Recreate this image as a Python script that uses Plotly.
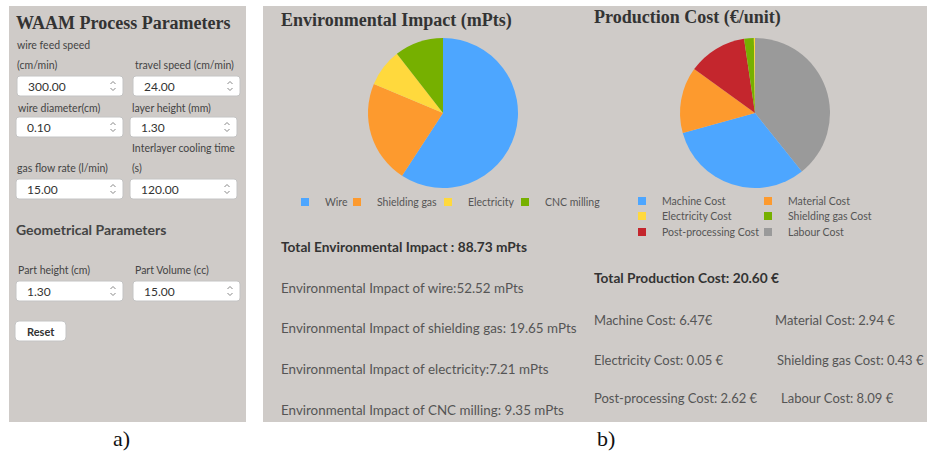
import plotly.graph_objects as go

W, H = 927, 454
BG = "#cfcbc8"
SANS = "Lato"
SERIF = "Liberation Serif"

# ---------------- data ----------------
env_labels = ["Wire", "Shielding gas", "Electricity", "CNC milling"]
env_values = [52.52, 19.65, 7.21, 9.35]
env_colors = ["#4da6ff", "#fd9a2e", "#ffd93d", "#76b000"]

cost_legend_labels = ["Machine Cost", "Material Cost", "Electricity Cost",
                      "Shielding gas Cost", "Post-processing Cost", "Labour Cost"]
cost_legend_colors = ["#4da6ff", "#fd9a2e", "#ffd93d", "#76b000", "#c4262d", "#9a9a9a"]
# drawing order of the slices (clockwise from 12 o'clock)
cost_labels = ["Labour Cost", "Machine Cost", "Material Cost",
               "Post-processing Cost", "Shielding gas Cost", "Electricity Cost"]
cost_values = [8.09, 6.47, 2.94, 2.62, 0.43, 0.05]
cost_colors = ["#9a9a9a", "#4da6ff", "#fd9a2e", "#c4262d", "#76b000", "#ffd93d"]

input_values = ["300.00", "24.00", "0.10", "1.30", "15.00", "120.00", "1.30", "15.00"]
input_labels = ["wire feed speed", "(cm/min)", "travel speed (cm/min)",
                "wire diameter(cm)", "layer height (mm)",
                "Interlayer cooling time", "gas flow rate (l/min)", "(s)",
                "Part height (cm)", "Part Volume (cc)"]

env_total_text = "Total Environmental Impact : 88.73 mPts"
env_lines = ["Environmental Impact of wire:52.52 mPts",
             "Environmental Impact of shielding gas: 19.65 mPts",
             "Environmental Impact of electricity:7.21 mPts",
             "Environmental Impact of CNC milling: 9.35 mPts"]
cost_total_text = "Total Production Cost: 20.60 €"
cost_lines = ["Machine Cost: 6.47€", "Material Cost: 2.94 €",
              "Electricity Cost: 0.05 €", "Shielding gas Cost: 0.43 €",
              "Post-processing Cost: 2.62 €", "Labour Cost: 8.09 €"]


def px(x):
    return x / W


def py(y):
    return 1 - y / H


def rrect(x0, y0, x1, y1, r=3):
    pts = [
        f"M{px(x0 + r)},{py(y0)}",
        f"L{px(x1 - r)},{py(y0)}",
        f"Q{px(x1)},{py(y0)} {px(x1)},{py(y0 + r)}",
        f"L{px(x1)},{py(y1 - r)}",
        f"Q{px(x1)},{py(y1)} {px(x1 - r)},{py(y1)}",
        f"L{px(x0 + r)},{py(y1)}",
        f"Q{px(x0)},{py(y1)} {px(x0)},{py(y1 - r)}",
        f"L{px(x0)},{py(y0 + r)}",
        f"Q{px(x0)},{py(y0)} {px(x0 + r)},{py(y0)}",
        "Z",
    ]
    return " ".join(pts)


fig = go.Figure()

fig.add_trace(go.Pie(
    labels=env_labels, values=env_values, sort=False, direction="clockwise",
    marker=dict(colors=env_colors, line=dict(width=0)), textinfo="none",
    domain=dict(x=[px(368), px(518)], y=[py(188), py(38)]),
    showlegend=False,
))
fig.add_trace(go.Pie(
    labels=cost_labels, values=cost_values, sort=False, direction="clockwise",
    marker=dict(colors=cost_colors, line=dict(width=0)), textinfo="none",
    domain=dict(x=[px(680), px(830)], y=[py(188), py(38)]),
    showlegend=False,
))

# legend entries: one small legend per entry so each sits where the reference has it
leg_font = dict(family=SANS, size=10.5, color="#555")
leg_common = dict(orientation="h", bgcolor="rgba(0,0,0,0)", borderwidth=0, font=leg_font,
                  xanchor="left", yanchor="middle", itemclick=False, itemdoubleclick=False)
env_leg_text_x = [329, 374, 458, 528]
env_leg_shift = [-4, 3, 10, 17]
cost_leg_text_xy = [(660, 201), (778, 201), (660, 216), (778, 216), (660, 232), (778, 232)]
cost_leg_shift = [2, 10, 2, 10, 2, 10]

legend_layout = {}
n = 0
for lab, col, tx, s in zip(env_labels, env_colors, env_leg_text_x, env_leg_shift):
    n += 1
    lid = "legend" if n == 1 else f"legend{n}"
    fig.add_trace(go.Scatter(x=[None], y=[None], mode="markers", name=lab, legend=lid,
                             marker=dict(symbol="square", size=8, color=col), showlegend=True))
    legend_layout[lid] = dict(x=px(tx - 40 + s), y=py(202), **leg_common)
for lab, col, (tx, ty), s in zip(cost_legend_labels, cost_legend_colors, cost_leg_text_xy, cost_leg_shift):
    n += 1
    lid = f"legend{n}"
    fig.add_trace(go.Scatter(x=[None], y=[None], mode="markers", name=lab, legend=lid,
                             marker=dict(symbol="square", size=8, color=col), showlegend=True))
    legend_layout[lid] = dict(x=px(tx - 40 + s), y=py(ty), **leg_common)

shapes = []
# panels
shapes.append(dict(type="rect", xref="paper", yref="paper", x0=px(9), x1=px(246),
                   y0=py(422), y1=py(6), fillcolor=BG, line=dict(width=0), layer="below"))
shapes.append(dict(type="rect", xref="paper", yref="paper", x0=px(263), x1=px(927),
                   y0=py(422), y1=py(6), fillcolor=BG, line=dict(width=0), layer="below"))

# input boxes
boxes = [(17, 123, 76, 96), (133, 240, 76, 96),
         (16, 123, 117, 137), (130, 237, 117, 137),
         (16, 123, 179, 199), (130, 237, 179, 199),
         (16, 123, 281, 301), (133, 240, 281, 301)]
annotations = []
for (x0, x1, y0, y1), val in zip(boxes, input_values):
    shapes.append(dict(type="path", xref="paper", yref="paper", path=rrect(x0, y0, x1, y1),
                       fillcolor="white", line=dict(color="#c4c4c4", width=1), layer="above"))
    cy = (y0 + y1) / 2
    sx = x1 - 10
    shapes.append(dict(type="path", xref="paper", yref="paper",
                       path=f"M{px(sx-2.5)},{py(cy-2)} L{px(sx)},{py(cy-4.5)} L{px(sx+2.5)},{py(cy-2)}",
                       line=dict(color="#888", width=1), layer="above"))
    shapes.append(dict(type="path", xref="paper", yref="paper",
                       path=f"M{px(sx-2.5)},{py(cy+2)} L{px(sx)},{py(cy+4.5)} L{px(sx+2.5)},{py(cy+2)}",
                       line=dict(color="#888", width=1), layer="above"))
    annotations.append(dict(text=val, x=px(x0 + 9), y=py(cy), xref="paper", yref="paper",
                            xanchor="left", yanchor="middle", showarrow=False,
                            font=dict(family=SANS, size=12, color="#333")))

# reset button
shapes.append(dict(type="path", xref="paper", yref="paper", path=rrect(15, 321, 66, 341, 4),
                   fillcolor="white", line=dict(color="#c4c4c4", width=1), layer="above"))
annotations.append(dict(text="<b>Reset</b>", x=px(40.5), y=py(331), xref="paper", yref="paper",
                        xanchor="center", yanchor="middle", showarrow=False,
                        font=dict(family=SANS, size=11, color="#333")))

label_pos = [(15, 45), (15, 65), (133, 65), (16, 108), (130, 108),
             (130, 148), (15, 168), (130, 168), (16, 270), (133, 270)]
for t, (x, y) in zip(input_labels, label_pos):
    annotations.append(dict(text=t, x=px(x), y=py(y), xref="paper", yref="paper",
                            xanchor="left", yanchor="middle", showarrow=False,
                            font=dict(family=SANS, size=10.5, color="#444")))

# titles
for t, x, y in [("WAAM Process Parameters", 14, 23),
                ("Environmental Impact (mPts)", 279, 20),
                ("Production Cost (€/unit)", 592, 18)]:
    annotations.append(dict(text=f"<b>{t}</b>", x=px(x), y=py(y), xref="paper", yref="paper",
                            xanchor="left", yanchor="middle", showarrow=False,
                            font=dict(family=SERIF, size=18, color="#333")))
annotations.append(dict(text="<b>Geometrical Parameters</b>", x=px(14), y=py(229),
                        xref="paper", yref="paper", xanchor="left", yanchor="middle",
                        showarrow=False, font=dict(family=SANS, size=14, color="#444")))

# environmental text
annotations.append(dict(text=f"<b>{env_total_text}</b>", x=px(279), y=py(246),
                        xref="paper", yref="paper", xanchor="left", yanchor="middle",
                        showarrow=False, font=dict(family=SANS, size=13.7, color="#333")))
for t, y in zip(env_lines, [288, 328, 369, 410]):
    annotations.append(dict(text=t, x=px(279), y=py(y), xref="paper", yref="paper",
                            xanchor="left", yanchor="middle", showarrow=False,
                            font=dict(family=SANS, size=13.4, color="#555")))

# cost text
annotations.append(dict(text=f"<b>{cost_total_text}</b>", x=px(592), y=py(277),
                        xref="paper", yref="paper", xanchor="left", yanchor="middle",
                        showarrow=False, font=dict(family=SANS, size=13.7, color="#333")))
cost_pos = [(592, 320), (773, 320), (592, 360), (775, 360), (592, 398), (779, 398)]
for t, (x, y) in zip(cost_lines, cost_pos):
    annotations.append(dict(text=t, x=px(x), y=py(y), xref="paper", yref="paper",
                            xanchor="left", yanchor="middle", showarrow=False,
                            font=dict(family=SANS, size=13, color="#555")))

# sub-figure labels
for t, x in [("a)", 121), ("b)", 606)]:
    annotations.append(dict(text=t, x=px(x), y=py(438), xref="paper", yref="paper",
                            xanchor="center", yanchor="middle", showarrow=False,
                            font=dict(family="Liberation Serif", size=22, color="#111")))

fig.update_layout(
    width=W, height=H, margin=dict(l=0, r=0, t=0, b=0),
    paper_bgcolor="white", plot_bgcolor="rgba(0,0,0,0)",
    xaxis=dict(visible=False), yaxis=dict(visible=False),
    shapes=shapes, annotations=annotations,
    hovermode=False,
    **legend_layout,
)

fig.write_html("out.html", post_script="document.body.style.margin='0px';",
               config=dict(displayModeBar=False))
